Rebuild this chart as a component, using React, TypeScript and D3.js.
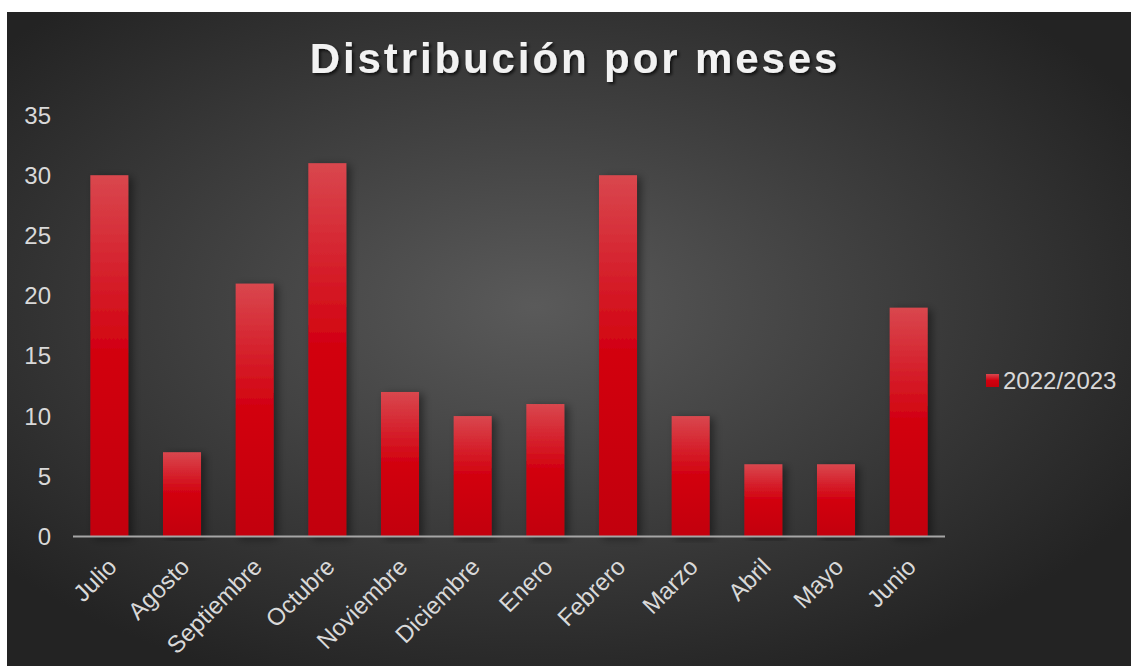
import React, { useEffect, useRef } from 'react'
import { select, scaleBand, scaleLinear, range } from 'd3'

const months = ['Julio', 'Agosto', 'Septiembre', 'Octubre', 'Noviembre', 'Diciembre', 'Enero', 'Febrero', 'Marzo', 'Abril', 'Mayo', 'Junio']
const counts = [30, 7, 21, 31, 12, 10, 11, 30, 10, 6, 6, 19]
const yTicks = [0, 5, 10, 15, 20, 25, 30, 35]
const seriesName = '2022/2023'
const chartTitle = 'Distribución por meses'

function App() {
  const width = 1131,
    height = 666
  const plot = { left: 73, right: 945, top: 115, bottom: 536.5 }

  const chartRef = useRef<SVGSVGElement>(null)

  useEffect(() => {
    const svg = select(chartRef.current)
    svg.selectAll('*').remove()

    const defs = svg.append('defs')

    // background
    const bg = defs.append('radialGradient').attr('id', 'bgGrad')
      .attr('cx', '47%').attr('cy', '45%').attr('r', '62%')
    bg.append('stop').attr('offset', '0%').attr('stop-color', '#5a5a5a')
    bg.append('stop').attr('offset', '100%').attr('stop-color', '#232323')

    // bar fill
    const barGrad = defs.append('linearGradient').attr('id', 'barGrad')
      .attr('x1', 0).attr('y1', 0).attr('x2', 0).attr('y2', 1)
    barGrad.append('stop').attr('offset', '0%').attr('stop-color', '#d9474e')
    barGrad.append('stop').attr('offset', '50%').attr('stop-color', '#d2000f')
    barGrad.append('stop').attr('offset', '100%').attr('stop-color', '#c2000a')

    const shadow = defs.append('filter').attr('id', 'barShadow')
      .attr('x', '-20%').attr('y', '-5%').attr('width', '160%').attr('height', '110%')
    shadow.append('feDropShadow').attr('dx', 4).attr('dy', 2).attr('stdDeviation', 4)
      .attr('flood-color', '#000').attr('flood-opacity', 0.45)

    const titleShadow = defs.append('filter').attr('id', 'titleShadow')
    titleShadow.append('feDropShadow').attr('dx', 2).attr('dy', 2).attr('stdDeviation', 1.5)
      .attr('flood-color', '#000').attr('flood-opacity', 0.7)

    svg.append('rect')
      .attr('x', 7).attr('y', 12)
      .attr('width', width - 7).attr('height', height - 12)
      .attr('fill', 'url(#bgGrad)')

    const x = scaleBand().domain(months).range([plot.left, plot.right]).paddingInner(0.477).paddingOuter(0.2385)
    const y = scaleLinear().domain([0, 35]).range([plot.bottom, plot.top])

    // title
    svg.append('text')
      .attr('x', 575).attr('y', 73)
      .attr('text-anchor', 'middle')
      .attr('font-family', 'Liberation Sans, Arial, sans-serif')
      .attr('font-weight', 'bold')
      .attr('font-size', 42)
      .attr('letter-spacing', 2.9)
      .attr('fill', '#f2f2f2')
      .attr('filter', 'url(#titleShadow)')
      .text(chartTitle)

    // y labels
    svg.append('g')
      .selectAll('text')
      .data(yTicks)
      .join('text')
        .attr('x', 51)
        .attr('y', (d) => y(d))
        .attr('dy', '0.36em')
        .attr('text-anchor', 'end')
        .attr('font-family', 'Liberation Sans, Arial, sans-serif')
        .attr('font-size', 24)
        .attr('fill', '#d9d9d9')
        .text((d) => d)

    // bars
    svg.append('g')
      .selectAll('rect')
      .data(range(months.length))
      .join('rect')
        .attr('x', (i) => x(months[i])!)
        .attr('y', (i) => y(counts[i]))
        .attr('width', x.bandwidth())
        .attr('height', (i) => y(0) - y(counts[i]))
        .attr('fill', 'url(#barGrad)')
        .attr('filter', 'url(#barShadow)')

    // x axis line
    svg.append('line')
      .attr('x1', plot.left).attr('x2', plot.right)
      .attr('y1', y(0)).attr('y2', y(0))
      .attr('stroke', '#a6a6a6').attr('stroke-width', 2)

    // x labels
    svg.append('g')
      .selectAll('text')
      .data(months)
      .join('text')
        .attr('transform', (d) => `translate(${x(d)! + x.bandwidth() / 2 - 3},${plot.bottom + 20}) rotate(-45)`)
        .attr('text-anchor', 'end')
        .attr('dy', '0.7em')
        .attr('font-family', 'Liberation Sans, Arial, sans-serif')
        .attr('font-size', 24)
        .attr('fill', '#d9d9d9')
        .text((d) => d)

    // legend
    const legend = svg.append('g').attr('transform', 'translate(986,374)')
    legend.append('rect').attr('width', 13).attr('height', 13).attr('fill', 'url(#barGrad)')
    legend.append('text')
      .attr('x', 17).attr('y', 14.5)
      .attr('font-family', 'Liberation Sans, Arial, sans-serif')
      .attr('font-size', 24)
      .attr('fill', '#d9d9d9')
      .text(seriesName)
  }, [])

  return (
    <svg ref={chartRef} width={width} height={height}
      style={{ position: 'absolute', left: 0, top: 0, background: '#fff' }}></svg>
  )
}

export default App
